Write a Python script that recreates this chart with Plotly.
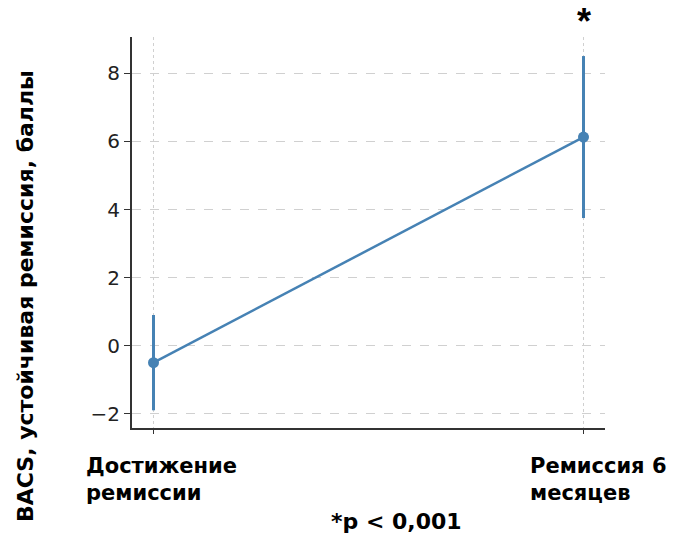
import plotly.graph_objects as go

# Data
stages = ["Достижение<br>ремиссии", "Ремиссия 6<br>месяцев"]
mean_scores = [-0.5, 6.13]
error_half = [1.4, 2.38]
y_ticks = [-2, 0, 2, 4, 6, 8]

x_pos = list(range(len(stages)))
color = "#4682b4"

fig = go.Figure()
fig.add_trace(go.Scatter(
    x=x_pos, y=mean_scores, mode="lines+markers",
    line=dict(color=color, width=2.5),
    marker=dict(color=color, size=11),
    error_y=dict(type="data", array=error_half, visible=True,
                 color=color, thickness=3, width=0),
    showlegend=False,
))

L, R, T, B = 132, 69, 37, 107
W, H = 674, 535
pw, ph = W - L - R, H - T - B

fig.update_layout(
    width=W, height=H,
    margin=dict(l=L, r=R, t=T, b=B),
    plot_bgcolor="white", paper_bgcolor="white",
    font=dict(family="DejaVu Sans", color="#222"),
    xaxis=dict(
        range=[-0.05, 1.05], tickvals=x_pos, ticktext=["", ""],
        showgrid=True, gridcolor="#d0d0d0", griddash="dot", gridwidth=1,
        showline=True, linecolor="#333", linewidth=2,
        ticks="outside", ticklen=4, tickcolor="#333",
        zeroline=False,
    ),
    yaxis=dict(
        range=[-2.42, 9.07], tickvals=y_ticks,
        ticktext=[("\u2212" + str(-v)) if v < 0 else str(v) for v in y_ticks],
        tickfont=dict(size=20, family="DejaVu Sans", color="#222"),
        showgrid=True, gridcolor="#d0d0d0", griddash="dash", gridwidth=1,
        showline=True, linecolor="#333", linewidth=2,
        ticks="outside", ticklen=6, tickcolor="#333",
        zeroline=False,
    ),
)

bold = dict(family="DejaVu Sans", size=21, color="black")

# Category labels, left-aligned under each point
label_shift = [-70, -56]
for xv, txt, sh in zip(x_pos, stages, label_shift):
    fig.add_annotation(
        x=xv, xref="x", y=(H - B - 452) / ph, yref="paper",
        text="<b>" + txt + "</b>", showarrow=False, align="left",
        xanchor="left", yanchor="top", xshift=sh,
        font=bold,
    )

# Significance marker above the second point
fig.add_annotation(
    x=1, xref="x", y=(H - B - 22) / ph, yref="paper",
    text="<b>*</b>", showarrow=False, xanchor="center", yanchor="middle",
    font=dict(family="Liberation Sans", size=36, color="black"),
)

# p-value note
fig.add_annotation(
    x=(396 - L) / pw, xref="paper", y=(H - B - 521) / ph, yref="paper",
    text="<b>*p < 0,001</b>", showarrow=False, xanchor="center", yanchor="middle",
    font=dict(family="DejaVu Sans", size=22, color="black"),
)

# Y-axis title
fig.add_annotation(
    x=(25 - L) / pw, xref="paper", y=(H - B - 296) / ph, yref="paper",
    text="<b>BACS, устойчивая ремиссия, баллы</b>", showarrow=False,
    textangle=-90, xanchor="center", yanchor="middle",
    font=dict(family="DejaVu Sans", size=22, color="black"),
)

fig.write_html("out.html")
